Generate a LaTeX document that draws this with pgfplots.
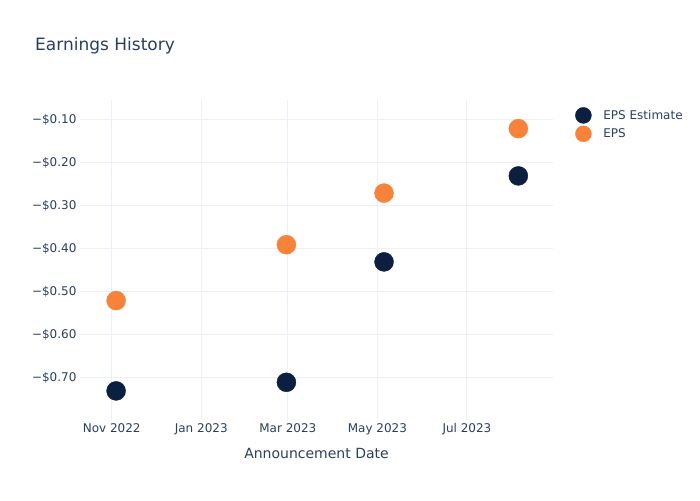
\documentclass[border=0pt]{standalone}
\usepackage{pgfplots}
\pgfplotsset{compat=1.18}
\usepackage{fontspec}
\setmainfont{DejaVu Sans}
\definecolor{navy}{HTML}{0B1F41}
\definecolor{eporange}{HTML}{F7823A}
\definecolor{gridc}{HTML}{EBF0F8}
\definecolor{txt}{HTML}{2A3F5F}
\begin{document}
\begin{tikzpicture}
\begin{axis}[anchor=south west, scale only axis, width=473pt, height=320pt,
 xmin=-21.6, xmax=300.6, ymin=-0.7977, ymax=-0.0535,
 axis line style={draw=none}, major tick length=0pt,
 grid=major, grid style={gridc, line width=1pt},
 xtick={0,61,120,181,242}, xticklabels={Nov 2022, Jan 2023, Mar 2023, May 2023, Jul 2023},
 ytick={-0.7,-0.6,-0.5,-0.4,-0.3,-0.2,-0.1},
 yticklabels={−\$0.70,−\$0.60,−\$0.50,−\$0.40,−\$0.30,−\$0.20,−\$0.10},
 tick label style={font=\fontsize{12}{14}\selectfont, text=txt},
 xlabel={Announcement Date}, xlabel style={font=\fontsize{14}{16}\selectfont, text=txt, yshift=-6pt},
 legend style={at={(1.0,1.0)}, xshift=19pt, yshift=-5pt, anchor=north west, draw=none, fill=none, font=\fontsize{12}{14}\selectfont, text=txt, row sep=2pt},
 legend cell align=left,
]
\addplot[only marks, mark=*, mark size=9.5pt, draw=navy, fill=navy, legend image code/.code={\fill[navy] (8pt,0pt) circle (8pt); \path[draw=none,fill=none] (0pt,-1pt) rectangle (26pt,1pt);}] coordinates {(3,-0.73) (119,-0.71) (185.5,-0.43) (277,-0.23)};
\addlegendentry{EPS Estimate}
\addplot[only marks, mark=*, mark size=9.5pt, draw=eporange, fill=eporange, legend image code/.code={\fill[eporange] (8pt,0pt) circle (8pt); \path[draw=none,fill=none] (0pt,-1pt) rectangle (26pt,1pt);}] coordinates {(3,-0.52) (119,-0.39) (185.5,-0.27) (277,-0.12)};
\addlegendentry{EPS}
\end{axis}
\path[use as bounding box] (-80pt,-80pt) rectangle (620pt,420pt);
\node[anchor=base west, font=\fontsize{17}{20}\selectfont, text=txt, inner sep=0pt] at (-45pt,369pt) {Earnings History};
\end{tikzpicture}
\end{document}
